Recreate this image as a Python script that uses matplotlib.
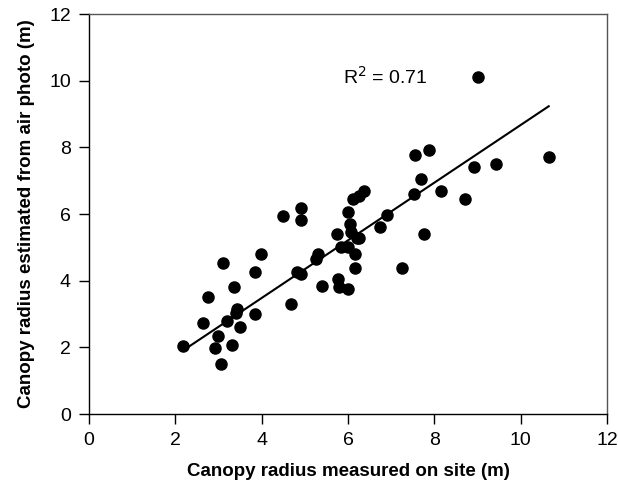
import matplotlib
matplotlib.use("Agg")
import matplotlib.pyplot as plt
import numpy as np

plt.rcParams['font.family'] = ['Liberation Sans', 'DejaVu Sans']

site_radius = [2.18, 2.65, 2.75, 2.93, 2.99, 3.06, 3.10, 3.19, 3.32, 3.37, 3.40, 3.44, 3.50,
               3.84, 3.84, 3.99, 4.49, 4.68, 4.83, 4.90, 4.90, 4.92, 5.25, 5.30, 5.40,
               5.74, 5.77, 5.79, 5.83, 5.99, 5.99, 5.99, 6.05, 6.08, 6.12, 6.17, 6.17,
               6.20, 6.25, 6.25, 6.38, 6.74, 6.90, 7.25, 7.52, 7.56, 7.69, 7.77, 7.87,
               8.15, 8.71, 8.93, 9.00, 9.44, 10.65]
photo_radius = [2.03, 2.72, 3.52, 1.98, 2.35, 1.51, 4.53, 2.80, 2.07, 3.80, 3.02, 3.14, 2.60,
                4.25, 3.00, 4.81, 5.93, 3.31, 4.25, 6.18, 5.81, 4.20, 4.65, 4.81, 3.83,
                5.41, 4.05, 3.81, 5.01, 6.05, 5.01, 3.76, 5.71, 5.46, 6.45, 4.81, 4.37,
                5.29, 5.28, 6.55, 6.68, 5.61, 5.98, 4.37, 6.61, 7.78, 7.06, 5.40, 7.93,
                6.69, 6.45, 7.41, 10.11, 7.49, 7.70]
fit_slope = 0.865
fit_intercept = 0.02
r2_label = "R$^2$ = 0.71"
ticks = [0, 2, 4, 6, 8, 10, 12]

fig = plt.figure(figsize=(6.18, 4.86), dpi=100)
ax = fig.add_axes([89/618, 1-414/486, (607-89)/618, 400/486])

xs = np.array([min(site_radius), max(site_radius)])
ax.plot(xs, fit_slope*xs + fit_intercept, color='black', lw=1.5, zorder=2)
ax.plot(site_radius, photo_radius, 'o', color='black', markersize=8, zorder=3)

ax.set_xlim(0, 12)
ax.set_ylim(0, 12)
ax.set_xticks(ticks)
ax.set_yticks(ticks)
ax.tick_params(direction='out', length=7, width=1, labelsize=14, colors='black', pad=6)
for s in ax.spines.values():
    s.set_linewidth(1)
for s in ['top', 'right']:
    ax.spines[s].set_color('#555555')

ax.text(5.88, 10.1, r2_label, fontsize=14, va='center', ha='left')
ax.set_xlabel("Canopy radius measured on site (m)", fontsize=13.5, fontweight='bold', labelpad=10)
ax.set_ylabel("Canopy radius estimated from air photo (m)", fontsize=13.5, fontweight='bold', labelpad=10)

fig.savefig("out.png", dpi=100)
